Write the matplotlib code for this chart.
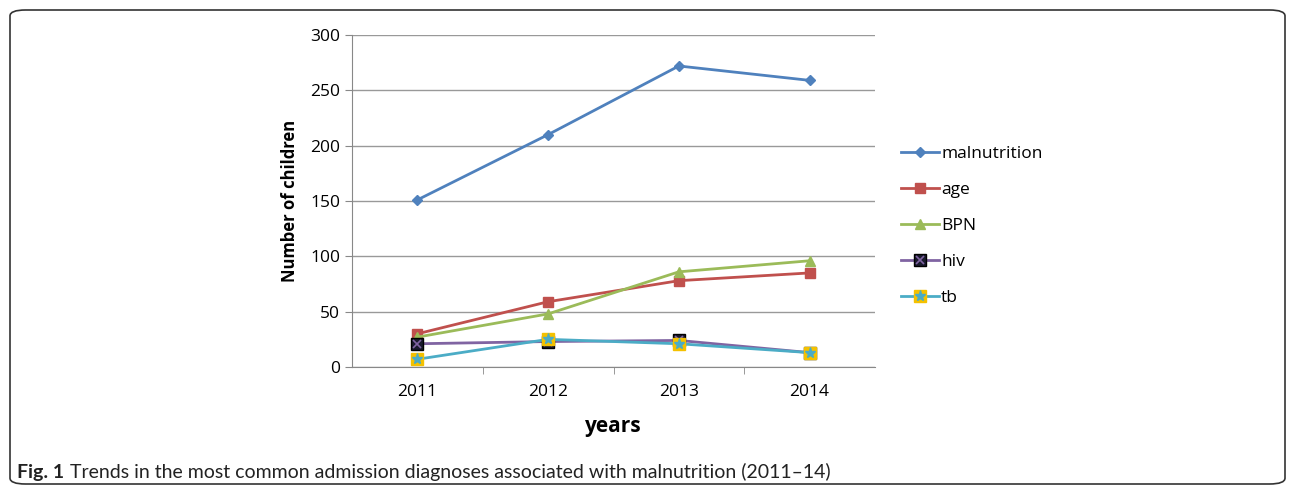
import matplotlib.pyplot as plt
from matplotlib.patches import FancyBboxPatch
from matplotlib.legend_handler import HandlerTuple

plt.rcParams['font.family'] = ['Open Sans', 'DejaVu Sans']

years = ['2011', '2012', '2013', '2014']
malnutrition = [151, 210, 272, 259]
age = [30, 59, 78, 85]
bpn = [27, 48, 86, 96]
hiv = [21, 23, 24, 13]
tb = [7, 25, 21, 13]

fig = plt.figure(figsize=(12.95, 4.94), dpi=100)
ax = fig.add_axes([352 / 1295, 1 - 367 / 494, 523 / 1295, 332 / 494])

# rounded frame round the whole figure
frame = FancyBboxPatch((10 / 1295, 10 / 494), 1275 / 1295, 474 / 494,
                       boxstyle='round,pad=0,rounding_size=0.012',
                       transform=fig.transFigure, fill=False,
                       edgecolor='#333333', linewidth=1.2)
fig.patches.append(frame)

x = range(len(years))
lw = 2
l1, = ax.plot(x, malnutrition, color='#4F81BD', lw=lw, marker='D', ms=5, label='malnutrition')
l2, = ax.plot(x, age, color='#C0504D', lw=lw, marker='s', ms=7, label='age')
l3, = ax.plot(x, bpn, color='#9BBB59', lw=lw, marker='^', ms=7, label='BPN')
l4, = ax.plot(x, hiv, color='#8064A2', lw=lw, marker='s', ms=8,
              markerfacecolor='#1a1a2e', markeredgecolor='#000000', label='hiv')
l4b, = ax.plot(x, hiv, lw=0, marker='x', ms=6, mew=1.2, color='#8064A2')
l5, = ax.plot(x, tb, color='#4BACC6', lw=lw, marker='s', ms=8,
              markerfacecolor='#F4C100', markeredgecolor='#F4C100', label='tb')
l5b, = ax.plot(x, tb, lw=0, marker='*', ms=8, color='#4BACC6')

ax.set_xlim(-0.5, 3.5)
ax.set_ylim(0, 300)
ax.set_yticks(range(0, 301, 50))
ax.set_xticks(list(x))
ax.set_xticklabels(years)
ax.set_xticks([0.5, 1.5, 2.5], minor=True)
ax.tick_params(axis='x', which='major', length=0, pad=12, labelsize=12.5)
ax.tick_params(axis='x', which='minor', length=5, color='#888888')
ax.tick_params(axis='y', length=5, color='#888888', labelsize=12.5)
ax.grid(axis='y', color='#999999', lw=1)
ax.set_axisbelow(True)
for s in ['top', 'right']:
    ax.spines[s].set_visible(False)
ax.spines['left'].set_color('#888888')
ax.spines['bottom'].set_color('#888888')

ax.set_ylabel('Number of children', fontsize=12, fontweight='bold', labelpad=8)
ax.set_xlabel('years', fontsize=15, fontweight='bold', labelpad=12)

ax.legend([l1, l2, l3, (l4, l4b), (l5, l5b)], ['malnutrition', 'age', 'BPN', 'hiv', 'tb'],
          handler_map={tuple: HandlerTuple(ndivide=1, pad=0)},
          loc='center left', bbox_to_anchor=(1.02, 0.425), frameon=False,
          fontsize=12.5, handlelength=2.2, handletextpad=0.1, labelspacing=1.15)

# caption: bold "Fig. 1" then plain text right after it
cy = 1 - 472 / 494
t1 = fig.text(17 / 1295, cy, 'Fig. 1', fontsize=14, fontweight='bold', va='center',
              family=['Lato', 'DejaVu Sans'], color='#222222')
fig.canvas.draw()
bb = t1.get_window_extent()
fig.text((bb.x1 + 6) / 1295, cy,
         'Trends in the most common admission diagnoses associated with malnutrition (2011\u201314)',
         fontsize=14, va='center', color='#222222', family=['Lato', 'DejaVu Sans'])

fig.savefig('out.png', dpi=100)
